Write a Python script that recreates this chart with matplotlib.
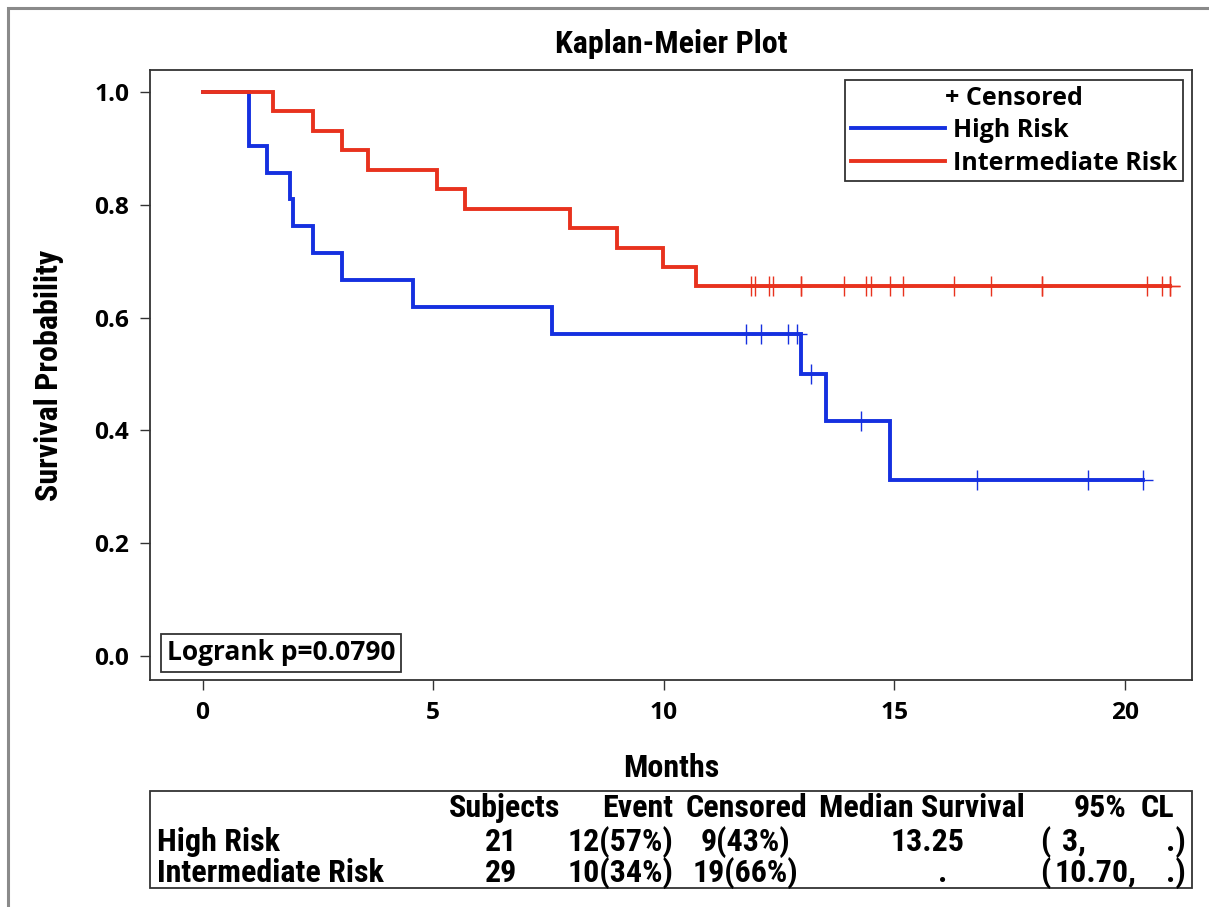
import matplotlib
matplotlib.use("Agg")
import matplotlib.pyplot as plt
import matplotlib.font_manager as fm
from matplotlib.font_manager import FontProperties
from matplotlib.lines import Line2D
from matplotlib.patches import Rectangle

# ---------------- data ----------------
high_event_times = [1.00, 1.00, 1.39, 1.89, 1.96, 2.39, 3.02, 4.57, 7.57, 12.98, 13.52, 14.91]
high_censor_times = [11.78, 12.11, 12.70, 12.89, 13.20, 14.28, 16.80, 19.20, 20.40]
int_event_times = [1.52, 2.39, 3.02, 3.59, 5.09, 5.70, 7.98, 9.00, 9.98, 10.70]
int_censor_times = [11.89, 11.98, 12.28, 12.38, 12.99, 12.99, 13.91, 14.38, 14.49, 14.90,
                    15.19, 16.29, 17.09, 18.20, 18.20, 20.49, 20.80, 20.98, 20.98]
group_names = ["High Risk", "Intermediate Risk"]
group_colors = ["#1530E0", "#E8321E"]
x_ticks = [0, 5, 10, 15, 20]
y_ticks = [0.0, 0.2, 0.4, 0.6, 0.8, 1.0]
logrank_text = "Logrank p=0.0790"
table_header = ["Subjects", "Event", "Censored", "Median Survival", "95%", "CL"]
table_subjects = ["21", "29"]
table_event = ["12(57%)", "10(34%)"]
table_censored = ["9(43%)", "19(66%)"]
table_median = ["13.25", "."]
table_cl_low = ["3,", "10.70,"]
table_cl_high = [".)", ".)"]


def km_curve(events, censors):
    times = sorted(set(events) | set(censors))
    n = len(events) + len(censors)
    s = 1.0
    xs, ys = [0.0], [1.0]
    cens_y = {}
    for t in times:
        d = events.count(t)
        c = censors.count(t)
        if d:
            s *= (n - d) / n
        xs.append(t)
        ys.append(s)
        if c:
            cens_y[t] = s
        n -= d + c
    cx = list(censors)
    cy = [cens_y[t] for t in censors]
    return xs, ys, cx, cy


# ------------- pick a condensed bold font if one is installed -------------
def _wt(w):
    if isinstance(w, str):
        return {"bold": 700, "heavy": 800, "black": 900, "semibold": 600, "demibold": 600,
                "extra bold": 800, "normal": 400, "regular": 400}.get(w.lower(), 400)
    return int(w)


def _is_narrow(f):
    st = f.stretch
    nm = f.name.lower()
    if "narrow" in nm or "condensed" in nm:
        return True
    if isinstance(st, str):
        return "condensed" in st
    try:
        return int(st) < 500
    except Exception:
        return False


def pick_narrow():
    prefs = ["liberation sans narrow", "arial narrow", "roboto condensed", "open sans condensed",
             "noto sans", "dejavu sans", "open sans", "roboto", "lato", "inter"]
    best = None
    for f in fm.fontManager.ttflist:
        if not _is_narrow(f) or f.style != "normal":
            continue
        w = _wt(f.weight)
        if w < 600:
            continue
        nm = f.name.lower()
        rank = len(prefs)
        for i, p in enumerate(prefs):
            if nm.startswith(p):
                rank = i
                break
        key = (rank, abs(w - 700))
        if best is None or key < best[0]:
            best = (key, f.fname)
    if best is not None:
        return FontProperties(fname=best[1])
    return FontProperties(family=["Liberation Sans", "DejaVu Sans"], weight="bold")


narrow_fp = pick_narrow()
wide_fp = FontProperties(family=["Open Sans", "DejaVu Sans"], weight="bold")

W, H = 1209, 907
fig = plt.figure(figsize=(W / 100, H / 100), dpi=100)
renderer = fig.canvas.get_renderer()


def fit_size(fp, text, target_px, base=20.0):
    t = fig.text(0, 0, text, fontproperties=fp, fontsize=base)
    w = t.get_window_extent(renderer).width
    t.remove()
    return base * target_px / w


NS = min(fit_size(narrow_fp, "Intermediate Risk", 225.0), 24.0)
LS = min(fit_size(wide_fp, "Intermediate Risk", 224.0), 19.0)
GS = min(fit_size(wide_fp, logrank_text, 232.0), 19.0)
TS = min(fit_size(wide_fp, "1.0", 35.0), 19.0)


def sized(fp, size):
    p = fp.copy()
    p.set_size(size)
    return p


# outer border
fig.patches.append(Rectangle((8 / W, -0.05), 1.2, 1 - 8 / H + 0.05, transform=fig.transFigure,
                             fill=False, edgecolor="#8a8a8a", linewidth=2.2))

L, R, T, B = 150, 1192, 70, 680
ax = fig.add_axes([L / W, 1 - B / H, (R - L) / W, (B - T) / H])
ax.set_xlim(-1.139, 21.46)
ax.set_ylim(-0.0426, 1.039)

curves = [(high_event_times, high_censor_times), (int_event_times, int_censor_times)]
for (ev, ce), name, col in zip(curves, group_names, group_colors):
    xs, ys, cx, cy = km_curve(ev, ce)
    ax.step(xs, ys, where="post", color=col, linewidth=2.8, solid_joinstyle="miter")
    ax.plot(cx, cy, linestyle="none", marker="+", markersize=14.5, markeredgewidth=1.0,
            color=col)

ax.set_xticks(x_ticks)
ax.set_yticks(y_ticks)
ax.set_xticklabels([str(v) for v in x_ticks], fontproperties=sized(wide_fp, TS))
ax.set_yticklabels([f"{v:.1f}" for v in y_ticks], fontproperties=sized(wide_fp, TS))
ax.tick_params(direction="out", length=7, width=1.0, color="#333333", pad=8)
for sp in ax.spines.values():
    sp.set_color("#333333")
    sp.set_linewidth(1.3)

ax.set_title("Kaplan-Meier Plot", fontproperties=sized(narrow_fp, NS), pad=12)
ax.set_xlabel("Months", fontproperties=sized(narrow_fp, NS), labelpad=20)
ax.set_ylabel("Survival Probability", fontproperties=sized(narrow_fp, NS), labelpad=22)

# legend
handles = [Line2D([0], [0], color=c, linewidth=2.8) for c in group_colors]
leg = ax.legend(handles, group_names, title="+ Censored", loc="upper right",
                bbox_to_anchor=((1183 - L) / (R - L), (B - 80) / (B - T)), borderaxespad=0,
                fancybox=False, edgecolor="#333333", framealpha=1,
                prop=sized(wide_fp, LS), title_fontproperties=sized(wide_fp, LS),
                handlelength=3.75, handletextpad=0.35, borderpad=0.22, labelspacing=0.3)
leg.get_frame().set_linewidth(1.3)

# logrank box
ax.text((167 - L) / (R - L), (B - 653) / (B - T), logrank_text, transform=ax.transAxes,
        ha="left", va="center", fontproperties=sized(wide_fp, GS),
        bbox=dict(boxstyle="square,pad=0.22", facecolor="white", edgecolor="#333333", linewidth=1.3))


# summary table
def fx(px):
    return px / W


def fy(py):
    return 1 - py / H


fig.patches.append(Rectangle((fx(150), fy(888)), (1192 - 150) / W, (888 - 791) / H,
                             transform=fig.transFigure, fill=False, edgecolor="#333333", linewidth=1.3))
tk = dict(fontproperties=sized(narrow_fp, NS), va="center")
hy, r1, r2 = 808, 842, 873
fig.text(fx(505), fy(hy), table_header[0], ha="center", **tk)
fig.text(fx(673), fy(hy), table_header[1], ha="right", **tk)
fig.text(fx(747), fy(hy), table_header[2], ha="center", **tk)
fig.text(fx(922), fy(hy), table_header[3], ha="center", **tk)
fig.text(fx(1100), fy(hy), table_header[4], ha="center", **tk)
fig.text(fx(1157), fy(hy), table_header[5], ha="center", **tk)
for i, ry in enumerate([r1, r2]):
    fig.text(fx(157), fy(ry), group_names[i], ha="left", **tk)
    fig.text(fx(517), fy(ry), table_subjects[i], ha="right", **tk)
    fig.text(fx(673), fy(ry), table_event[i], ha="right", **tk)
    fig.text(fx(745), fy(ry), table_censored[i], ha="center", **tk)
    fig.text(fx(928 if i == 0 else 943), fy(ry), table_median[i], ha="center", **tk)
    fig.text(fx(1040), fy(ry), "(", ha="left", **tk)
    fig.text(fx(1062 if i == 0 else 1055), fy(ry), table_cl_low[i], ha="left", **tk)
    fig.text(fx(1186), fy(ry), table_cl_high[i], ha="right", **tk)

fig.savefig("out.png", dpi=100, facecolor="white")
